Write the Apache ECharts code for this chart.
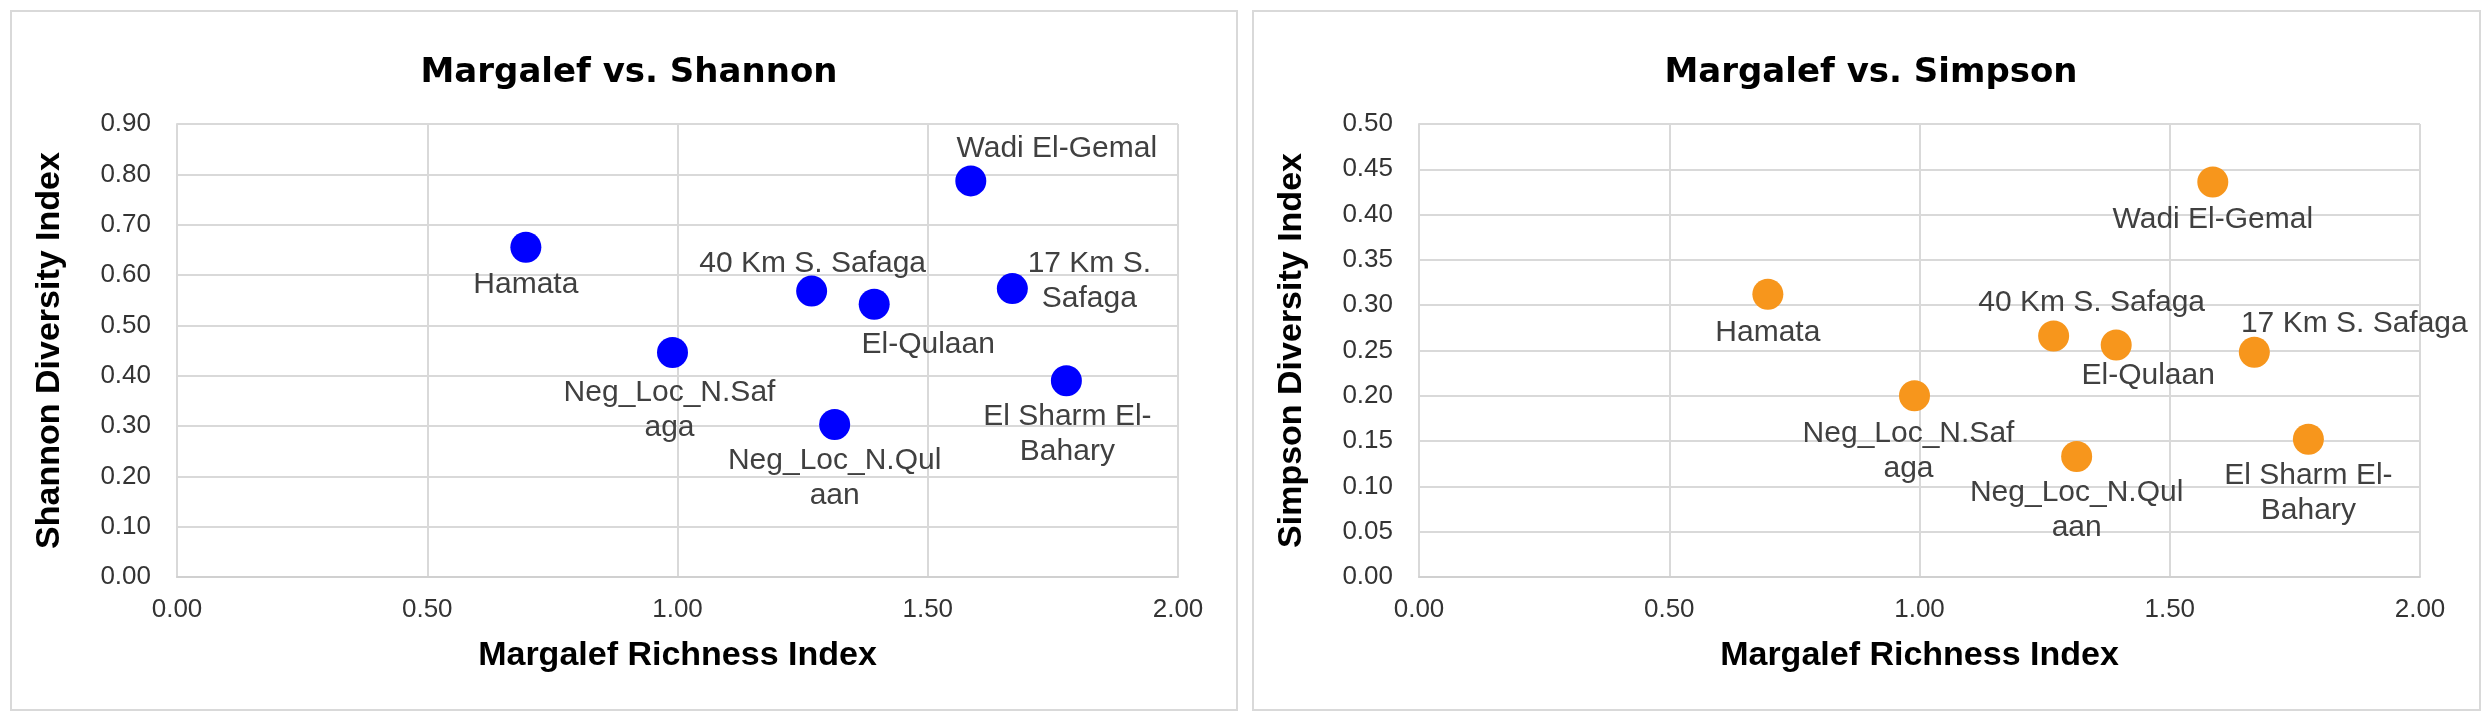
<!DOCTYPE html>
<html>
<head>
<meta charset="utf-8">
<script src="https://cdn.jsdelivr.net/npm/echarts@6/dist/echarts.min.js"></script>
<style>
  html, body { margin: 0; padding: 0; background: #fff; }
  #main { width: 2492px; height: 722px; }
</style>
</head>
<body>
<div id="main"></div>
<script>
// sites and index values
var sites = ['Hamata', 'Neg_Loc_N.Safaga', '40 Km S. Safaga', 'Neg_Loc_N.Qulaan', 'El-Qulaan', 'Wadi El-Gemal', '17 Km S. Safaga', 'El Sharm El-Bahary'];
var margalef = [0.697, 0.990, 1.268, 1.314, 1.393, 1.586, 1.669, 1.777];
var shannon = [0.655, 0.446, 0.568, 0.303, 0.542, 0.787, 0.573, 0.390];
var simpson = [0.312, 0.200, 0.266, 0.133, 0.256, 0.436, 0.248, 0.152];

// label text as wrapped in each panel
var shannonLabels = ['Hamata', 'Neg_Loc_N.Saf\naga', '40 Km S. Safaga', 'Neg_Loc_N.Qul\naan', 'El-Qulaan', 'Wadi El-Gemal', '17 Km S.\nSafaga', 'El Sharm El-\nBahary'];
var simpsonLabels = ['Hamata', 'Neg_Loc_N.Saf\naga', '40 Km S. Safaga', 'Neg_Loc_N.Qul\naan', 'El-Qulaan', 'Wadi El-Gemal', '17 Km S. Safaga', 'El Sharm El-\nBahary'];

// label placement relative to the marker centre (dx, dy)
var shannonOffsets = [[0, 37], [-3, 58], [1, -27], [0, 54], [54, 41], [86, -32], [77, -7], [1, 54]];
var simpsonOffsets = [[0, 38], [-6, 55], [38, -33], [0, 54], [32, 31], [0, 38], [100, -29], [0, 54]];

var textFont = "'Liberation Sans', Arial, sans-serif";
var titleFont = "'Comic Sans MS', 'DejaVu Sans', sans-serif";

function buildData(ys, labels, offsets) {
	var out = [];
	for (var i = 0; i < margalef.length; i++) {
		out.push({
			name: sites[i],
			value: [margalef[i], ys[i]],
			label: { formatter: labels[i], offset: offsets[i] }
		});
	}
	return out;
}

function xAxisFor(idx) {
	return {
		gridIndex: idx,
		type: 'value',
		min: 0, max: 2, interval: 0.5,
		name: 'Margalef Richness Index',
		nameLocation: 'middle',
		nameGap: 62,
		nameTextStyle: { fontFamily: textFont, fontWeight: 'bold', fontSize: 34, color: '#000' },
		axisLine: { show: true, lineStyle: { color: '#d0d0d0', width: 2 } },
		axisTick: { show: false },
		axisLabel: {
			fontFamily: textFont, fontSize: 26, color: '#333', margin: 20,
			formatter: function (v) { return v.toFixed(2); }
		},
		splitLine: { show: true, lineStyle: { color: '#d9d9d9', width: 2 } }
	};
}

function yAxisFor(idx, name, max, step) {
	return {
		gridIndex: idx,
		type: 'value',
		min: 0, max: max, interval: step,
		name: name,
		nameLocation: 'middle',
		nameGap: 110,
		nameTextStyle: { fontFamily: textFont, fontWeight: 'bold', fontSize: 34, color: '#000' },
		axisLine: { show: true, lineStyle: { color: '#d9d9d9', width: 2 } },
		axisTick: { show: false },
		axisLabel: {
			fontFamily: textFont, fontSize: 26, color: '#333', margin: 26,
			formatter: function (v) { return v.toFixed(2); }
		},
		splitLine: { show: true, lineStyle: { color: '#d9d9d9', width: 2 } }
	};
}

function seriesFor(idx, ys, labels, offsets, color) {
	return {
		type: 'scatter',
		xAxisIndex: idx,
		yAxisIndex: idx,
		symbolSize: 31,
		itemStyle: { color: color, opacity: 1 },
		label: {
			show: true,
			position: 'inside',
			align: 'center',
			verticalAlign: 'middle',
			fontFamily: textFont,
			fontSize: 30,
			lineHeight: 35,
			color: '#404040'
		},
		emphasis: { disabled: true },
		data: buildData(ys, labels, offsets)
	};
}

var myChart = echarts.init(document.getElementById('main'));
var option = {
	backgroundColor: '#fff',
	animation: false,
	title: [
		{
			text: 'Margalef vs. Shannon', left: 624, top: 51, textAlign: 'center',
			textStyle: { fontFamily: titleFont, fontWeight: 'bold', fontSize: 34, color: '#000' }
		},
		{
			text: 'Margalef vs. Simpson', left: 1866, top: 51, textAlign: 'center',
			textStyle: { fontFamily: titleFont, fontWeight: 'bold', fontSize: 34, color: '#000' }
		}
	],
	graphic: [
		{ type: 'rect', shape: { x: 11, y: 11, width: 1226, height: 699 }, style: { fill: null, stroke: '#d9d9d9', lineWidth: 2 } },
		{ type: 'rect', shape: { x: 1253, y: 11, width: 1227, height: 699 }, style: { fill: null, stroke: '#d9d9d9', lineWidth: 2 } }
	],
	grid: [
		{ left: 177, top: 124, width: 1001, height: 453 },
		{ left: 1419, top: 124, width: 1001, height: 453 }
	],
	xAxis: [xAxisFor(0), xAxisFor(1)],
	yAxis: [
		yAxisFor(0, 'Shannon Diversity Index', 0.9, 0.1),
		yAxisFor(1, 'Simpson Diversity Index', 0.5, 0.05)
	],
	series: [
		seriesFor(0, shannon, shannonLabels, shannonOffsets, '#0000ff'),
		seriesFor(1, simpson, simpsonLabels, simpsonOffsets, '#f7961c')
	]
};
myChart.setOption(option);
window.addEventListener('resize', function () {
	myChart.resize();
});
</script>
</body>
</html>
